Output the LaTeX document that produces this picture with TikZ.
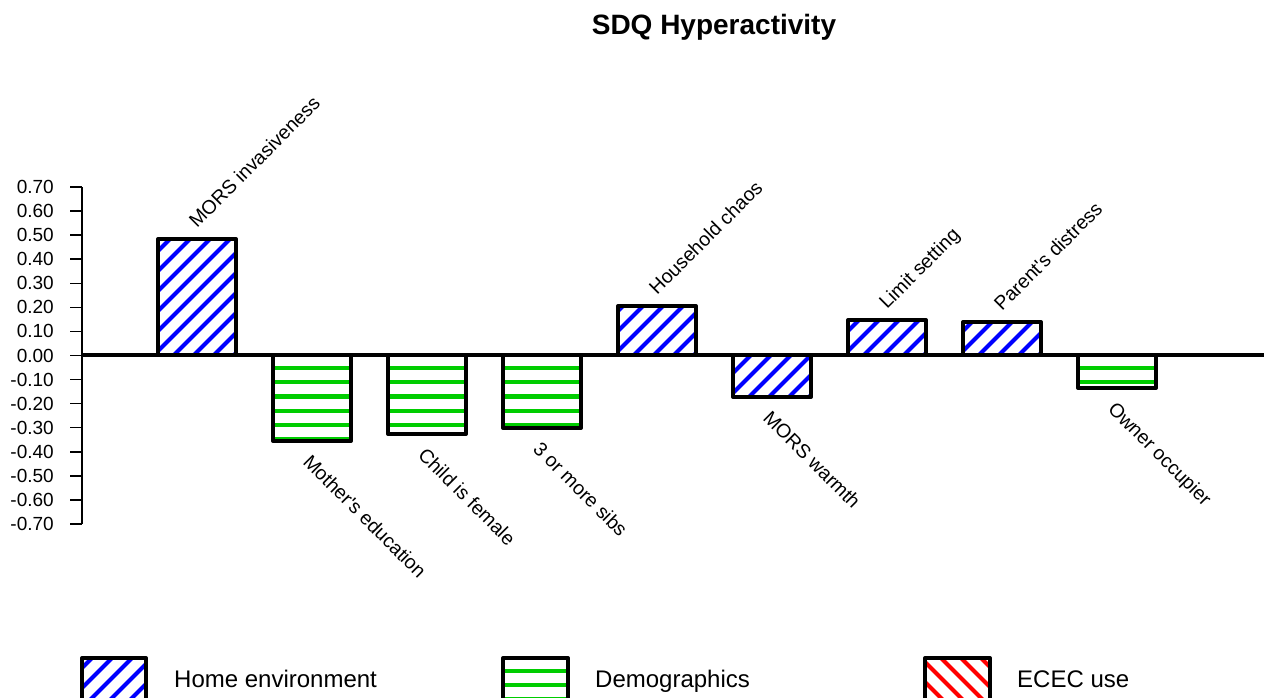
\documentclass[tikz,border=0pt]{standalone}
\usepackage{fontspec}
\setmainfont{Liberation Sans}
\definecolor{hatchblue}{RGB}{0,0,255}
\definecolor{hatchgreen}{RGB}{0,205,0}
\definecolor{hatchred}{RGB}{255,0,0}
\tikzset {
    bar box/.style = {draw, line width = 4pt, line join = round},
    home bar/.style = {
        bar box,
        path picture = {
            \foreach \d in {-124, -104, ..., 76}
                \draw [hatchblue, line width = 4.2pt]
                ([xshift = \d pt]path picture bounding box.south west) -- ++(160, -160);
        }
    },
    demo bar/.style = {
        bar box,
        path picture = {
            \foreach \d in {13, 27.2, ..., 200}
                \draw [hatchgreen, line width = 4.2pt]
                ([yshift = -\d pt]path picture bounding box.north west)
                -- ([yshift = -\d pt]path picture bounding box.north east);
        }
    },
    ecec bar/.style = {
        bar box,
        path picture = {
            \foreach \d in {-124, -104, ..., 76}
                \draw [hatchred, line width = 4.2pt]
                ([xshift = \d pt]path picture bounding box.north west) -- ++(160, 160);
        }
    },
    %
    up label/.style = {
        anchor = base west, rotate = 45, inner sep = 0pt,
        font = \fontsize{19.5}{22}\selectfont
    },
    down label/.style = {
        anchor = north west, rotate = -45, inner sep = 0pt,
        font = \fontsize{19.5}{22}\selectfont
    },
    tick label/.style = {
        anchor = east, inner sep = 0pt,
        font = \fontsize{19}{21}\selectfont
    },
    legend text/.style = {
        anchor = base west, inner sep = 0pt,
        font = \fontsize{24}{28}\selectfont
    },
    title text/.style = {
        anchor = base,
        font = \fontsize{28}{32}\selectfont\bfseries
    }
}

\begin{document}
\begin{tikzpicture}[x = 1pt, y = -1pt]
    \useasboundingbox (0, 0) rectangle (1264, 697);
    \clip (0, 0) rectangle (1264, 697);
    \coordinate (o) at (82, 355);
    \node (title) [title text] at (714, 34) {SDQ Hyperactivity};
    % y axis
    \draw [line width = 1.5pt] (82, 187) -- (82, 524);
    \foreach \lab [count = \k from 0] in {0.70, 0.60, 0.50, 0.40, 0.30, 0.20, 0.10,
        0.00, -0.10, -0.20, -0.30, -0.40, -0.50, -0.60, -0.70} {
        \draw [line width = 1.5pt] (70, {187 + \k*24.07}) -- (82, {187 + \k*24.07});
        \node (tick\k) [tick label] at (54, {187 + \k*24.07}) {\lab};
    }
    % bars
    \draw [home bar] (158, 355) rectangle (236, 239);
    \draw [demo bar] (273, 355) rectangle (351, 441);
    \draw [demo bar] (388, 355) rectangle (466, 434);
    \draw [demo bar] (503, 355) rectangle (581, 428);
    \draw [home bar] (618, 355) rectangle (696, 306);
    \draw [home bar] (733, 355) rectangle (811, 397);
    \draw [home bar] (848, 355) rectangle (926, 320);
    \draw [home bar] (963, 355) rectangle (1041, 322);
    \draw [demo bar] (1078, 355) rectangle (1156, 388);
    \draw [line width = 3.5pt] (o) -- (1264, 355);
    % bar names
    \node (inv) [up label] at (197, 229) {MORS invasiveness};
    \node (edu) [down label] at (312, 453) {Mother\textquotesingle s education};
    \node (fem) [down label] at (427, 446) {Child is female};
    \node (sibs) [down label] at (542, 440) {3 or more sibs};
    \node (chaos) [up label] at (657, 296) {Household chaos};
    \node (warm) [down label] at (772, 409) {MORS warmth};
    \node (limit) [up label] at (887, 310) {Limit setting};
    \node (dist) [up label] at (1002, 312) {Parent\textquotesingle s distress};
    \node (owner) [down label] at (1117, 400) {Owner occupier};
    % legend
    \draw [home bar] (82, 658) rectangle (146, 712);
    \node (leg1) [legend text] at (174, 687) {Home environment};
    \draw [demo bar] (503, 658) rectangle (568, 712);
    \node (leg2) [legend text] at (595, 687) {Demographics};
    \draw [ecec bar] (925, 658) rectangle (990, 712);
    \node (leg3) [legend text] at (1017, 687) {ECEC use};
\end{tikzpicture}
\end{document}
